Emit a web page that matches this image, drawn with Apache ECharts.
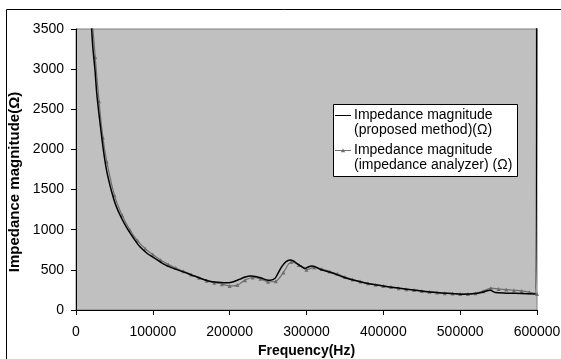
<!DOCTYPE html>
<html>
<head>
<meta charset="utf-8">
<script src="https://cdn.jsdelivr.net/npm/echarts@6/dist/echarts.min.js"></script>
<style>
  html, body { margin: 0; padding: 0; background: #fff; }
  #chart { width: 561px; height: 359px; }
</style>
</head>
<body>
<div id="chart"></div>
<script>
// proposed method (black line)
const proposedFreq = [
  20000, 22000, 24700, 27000, 30400, 35600, 40000, 46500, 52000, 59500,
  67000, 74600, 83000, 92000, 100000, 113700, 125000, 139700, 155000, 172300,
  185000, 198300, 205000, 213500, 220000, 226600, 235300, 242000, 248300, 253000,
  259100, 263000, 267800, 273000, 278600, 283000, 287300, 293000, 298200, 302000,
  306900, 312000, 317700, 325000, 332900, 345000, 356800, 375000, 400200, 421900,
  439200, 460000, 482700, 504300, 520000, 530000, 539000, 545600, 560000, 580000,
  598000, 599600
];
const proposedValues = [
  3560, 3260, 2990, 2700, 2400, 1994, 1730, 1470, 1300, 1140,
  1010, 900, 790, 710, 660, 575, 525, 475, 420, 362,
  345, 338, 352, 385, 410, 424, 415, 395, 375, 372,
  395, 460, 540, 600, 623, 610, 581, 545, 519, 535,
  548, 535, 507, 485, 465, 420, 382, 340, 299, 270,
  249, 225, 208, 196, 205, 225, 245, 218, 210, 205,
  198, 5000
];

// impedance analyzer (grey line with markers)
const analyzerFreq = [
  20000, 25000, 30000, 35000, 40000, 50000, 60000, 70000, 80000, 90000,
  100000, 110000, 120000, 130000, 140000, 150000, 160000, 170000, 180000, 190000,
  200000, 210000, 220000, 230000, 240000, 250000, 260000, 270000, 280000, 290000,
  300000, 310000, 320000, 330000, 340000, 350000, 360000, 370000, 380000, 390000,
  400000, 410000, 420000, 430000, 440000, 450000, 460000, 470000, 480000, 490000,
  500000, 510000, 520000, 530000, 540000, 550000, 560000, 570000, 580000, 590000,
  600000
];
const analyzerValues = [
  3750, 3150, 2600, 2150, 1850, 1430, 1180, 1000, 865, 765,
  690, 622, 568, 522, 482, 442, 402, 365, 340, 322,
  300, 310, 372, 405, 388, 352, 358, 468, 598, 562,
  502, 530, 510, 480, 450, 412, 380, 355, 332, 315,
  300, 285, 272, 260, 250, 238, 228, 218, 210, 205,
  200, 198, 210, 235, 272, 262, 254, 246, 238, 222,
  200
];

const seriesNames = [
  ["Impedance magnitude", "(proposed method)(Ω)"],
  ["Impedance magnitude", "(impedance analyzer) (Ω)"],
];
const xTicks = [0, 100000, 200000, 300000, 400000, 500000, 600000];
const yTicks = [0, 500, 1000, 1500, 2000, 2500, 3000, 3500];

const pairs = (xs, ys) => xs.map((x, i) => [x, ys[i]]);
const font = "'Liberation Sans', Arial, sans-serif";
const grey = "#6e6e6e";

// legend box drawn by hand so the key sits beside the first text line, as in the original
const legendText = (x, y, text) => ({
  type: "text",
  silent: true,
  x: x,
  y: y,
  style: { text: text, fill: "#000", font: "14px " + font, verticalAlign: "middle" },
});
const legendGraphics = [
  {
    type: "rect",
    silent: true,
    shape: { x: 333.5, y: 104.5, width: 184, height: 72 },
    style: { fill: "#fff", stroke: "#000", lineWidth: 1 },
  },
  {
    type: "line",
    silent: true,
    shape: { x1: 335, y1: 115.5, x2: 351, y2: 115.5 },
    style: { stroke: "#000", lineWidth: 1 },
  },
  legendText(354, 115, seriesNames[0][0]),
  legendText(354, 130.5, seriesNames[0][1]),
  {
    type: "line",
    silent: true,
    shape: { x1: 335, y1: 150.5, x2: 351, y2: 150.5 },
    style: { stroke: grey, lineWidth: 1 },
  },
  {
    type: "polygon",
    silent: true,
    shape: { points: [[343, 148.5], [345.2, 152.3], [340.8, 152.3]] },
    style: { fill: grey },
  },
  legendText(354, 150, seriesNames[1][0]),
  legendText(354, 165.5, seriesNames[1][1]),
];

var chart = echarts.init(document.getElementById("chart"));
var option = {
  animation: false,
  backgroundColor: "#ffffff",
  textStyle: { fontFamily: font },
  graphic: [
    {
      type: "rect",
      silent: true,
      shape: { x: 6.5, y: 9.5, width: 620, height: 420 },
      style: { fill: null, stroke: "#000", lineWidth: 1 },
    },
    ...legendGraphics,
  ],
  grid: {
    left: 76,
    top: 29,
    right: 24,
    bottom: 49,
    containLabel: false,
    outerBoundsMode: "none",
    show: true,
    backgroundColor: "#c0c0c0",
    borderColor: "#808080",
    borderWidth: 1,
  },
  xAxis: {
    type: "value",
    min: 0,
    max: 600000,
    interval: 100000,
    name: "Frequency(Hz)",
    nameLocation: "middle",
    nameGap: 33,
    nameTextStyle: { fontFamily: font, fontSize: 14, fontWeight: "bold", color: "#000" },
    axisLine: { show: true, lineStyle: { color: "#000", width: 1 } },
    axisTick: { show: true, length: 5, lineStyle: { color: "#000" } },
    axisLabel: {
      margin: 15,
      fontSize: 14,
      color: "#000",
      fontFamily: font,
      formatter: (v) => (xTicks.includes(v) ? String(v) : ""),
    },
    splitLine: { show: false },
  },
  yAxis: {
    type: "value",
    min: 0,
    max: 3500,
    interval: 500,
    name: "Impedance magnitude(Ω)",
    nameLocation: "middle",
    nameGap: 53,
    nameTextStyle: {
      fontFamily: font,
      fontSize: 15,
      fontWeight: "bold",
      color: "#000",
      padding: [0, 25, 0, 0],
    },
    axisLine: { show: true, lineStyle: { color: "#000", width: 1 } },
    axisTick: { show: true, length: 5, lineStyle: { color: "#000" } },
    axisLabel: {
      margin: 12,
      fontSize: 14,
      color: "#000",
      fontFamily: font,
      formatter: (v) => (yTicks.includes(v) ? String(v) : ""),
    },
    splitLine: { show: false },
  },
  series: [
    {
      name: seriesNames[1].join(" "),
      type: "line",
      data: pairs(analyzerFreq, analyzerValues),
      smooth: 0.3,
      clip: true,
      symbol: "triangle",
      symbolSize: 4,
      showSymbol: true,
      lineStyle: { color: grey, width: 1.2 },
      itemStyle: { color: grey },
      z: 2,
    },
    {
      name: seriesNames[0].join(" "),
      type: "line",
      data: pairs(proposedFreq, proposedValues),
      smooth: 0.3,
      clip: true,
      symbol: "none",
      lineStyle: { color: "#000", width: 1.5 },
      itemStyle: { color: "#000" },
      z: 3,
    },
  ],
};

option && chart.setOption(option);
</script>
</body>
</html>
